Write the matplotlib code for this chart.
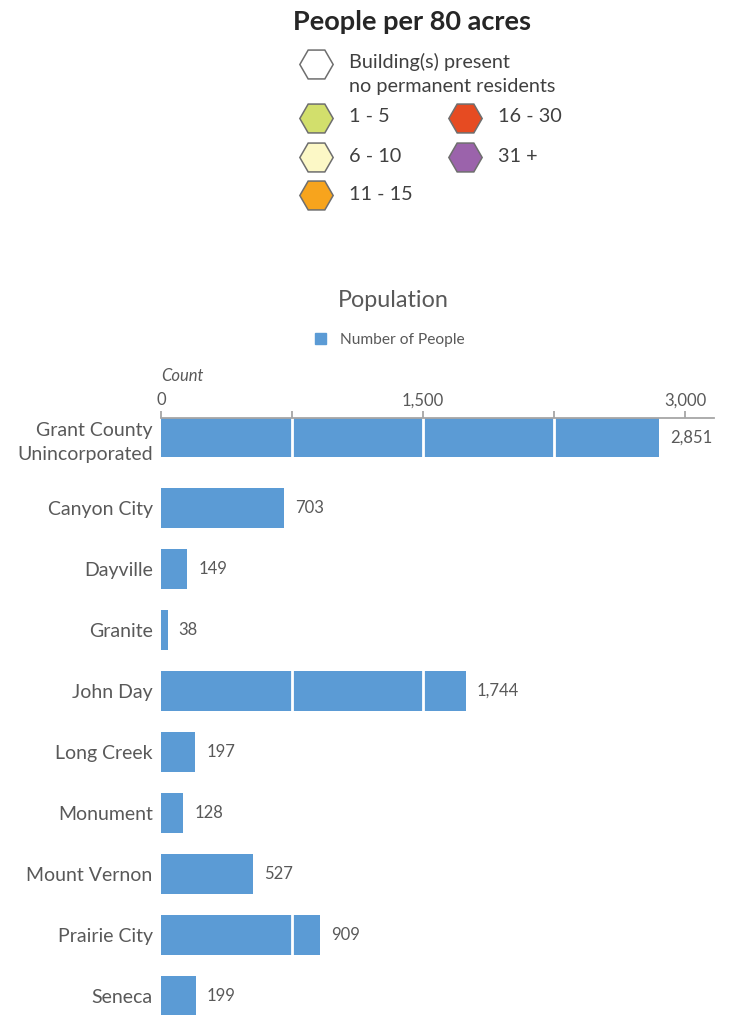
import matplotlib
matplotlib.use("Agg")
import matplotlib.pyplot as plt
from matplotlib.patches import Patch
import numpy as np

# population by place
places = ["Grant County\nUnincorporated", "Canyon City", "Dayville", "Granite",
          "John Day", "Long Creek", "Monument", "Mount Vernon", "Prairie City", "Seneca"]
people = [2851, 703, 149, 38, 1744, 197, 128, 527, 909, 199]

# density classes for the map legend
density_labels = ["Building(s) present\nno permanent residents", "1 - 5", "6 - 10",
                  "11 - 15", "16 - 30", "31 +"]
density_colors = ["#ffffff", "#d2df6c", "#fcf8c6", "#f7a41d", "#e64b22", "#9b63ab"]

W, H = 748, 1015
GRAY = "#595959"
BLUE = "#5b9bd5"
plt.rcParams['font.family'] = ['Lato', 'DejaVu Sans']

fig = plt.figure(figsize=(W / 100, H / 100), dpi=100)


def fx(x):
    return x / W


def fy(y):
    return 1 - y / H


# ---- density legend ----
fig.text(fx(412), fy(22), "People per 80 acres", ha="center", va="center",
         fontsize=19.5, fontweight="bold", color="#262626")
hex_pos = [(316, 64), (316, 118), (316, 157), (316, 195), (465, 118), (465, 157)]
text_pos = [(349, 74), (349, 116), (349, 157), (349, 195), (498, 116), (498, 157)]
for lab, col, (hx, hy), (tx, ty) in zip(density_labels, density_colors, hex_pos, text_pos):
    fig.add_artist(plt.Line2D([fx(hx)], [fy(hy)], marker="H", markersize=24,
                              markerfacecolor=col, markeredgecolor="#6e6e6e",
                              markeredgewidth=1.1, linestyle="none",
                              transform=fig.transFigure))
    fig.text(fx(tx), fy(ty), lab, ha="left", va="center", fontsize=14.3,
             color="#404040", linespacing=1.45)

# ---- bar chart ----
fig.text(fx(393), fy(301), "Population", ha="center", va="center",
         fontsize=16.8, color=GRAY)
fig.text(fx(161), fy(376), "Count", ha="left", va="center",
         fontsize=12, style="italic", color=GRAY)

ax = fig.add_axes([fx(161), 0, fx(714) - fx(161), (H - 418) / H])
ypos = np.arange(len(places), dtype=float)
ypos[0] -= 0.16  # two-line label row sits a little higher
bars = ax.barh(ypos, people, height=0.655, color=BLUE, zorder=2,
               label="Number of People")
ax.bar_label(bars, labels=[f"{v:,}" for v in people], padding=8,
             fontsize=12, color=GRAY)

ax.set_xlim(0, 3165)
ax.set_ylim(9.31, -0.475)
for g in (750, 1500, 2250):
    ax.axvline(g, color="white", lw=2, zorder=2.2)

ax.xaxis.tick_top()
ax.set_xticks([0, 1500, 3000])
ax.set_xticklabels(["0", "1,500", "3,000"])
ax.set_xticks([750, 2250], minor=True)
ax.tick_params(axis="x", which="both", direction="out", length=5, width=1.3,
               color="#a6a6a6", labelsize=12, labelcolor=GRAY, pad=2)
ax.set_yticks(ypos)
ax.set_yticklabels(places, linespacing=1.5)
ax.tick_params(axis="y", length=0, labelsize=14, labelcolor=GRAY, pad=6)
for lab in ax.get_yticklabels():
    lab.set_multialignment("right")
for s in ("left", "right", "bottom"):
    ax.spines[s].set_visible(False)
ax.spines["top"].set_color("#a6a6a6")
ax.spines["top"].set_linewidth(1.3)

ax.legend(handles=[Patch(color=BLUE, label="Number of People")], loc="center",
          bbox_to_anchor=(fx(390), fy(340)), bbox_transform=fig.transFigure,
          frameon=False, fontsize=11.2, handlelength=0.7, handleheight=0.7,
          handletextpad=0.9, labelcolor=GRAY)

fig.savefig("out.png", dpi=100, facecolor="white")
